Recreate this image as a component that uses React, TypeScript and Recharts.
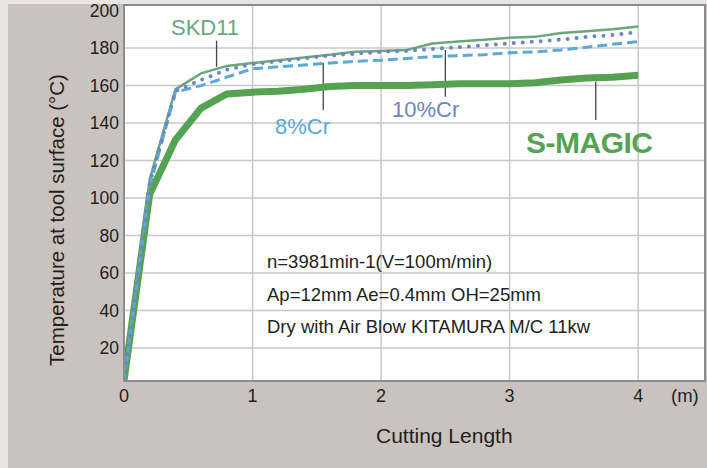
import { LineChart, Line, XAxis, YAxis, CartesianGrid, ReferenceLine, ReferenceArea } from "recharts";

const lengths = [0, 0.2, 0.4, 0.6, 0.8, 1.0, 1.2, 1.4, 1.6, 1.8, 2.0, 2.2, 2.4, 2.6, 2.8, 3.0, 3.2, 3.4, 3.6, 3.8, 4.0];
const sMagic = [2.5, 102, 131, 148, 155.5, 156.5, 157, 158, 159.5, 160, 160, 160, 160.5, 161, 161, 161, 161.5, 163, 164, 164.5, 165.5];
const skd11 = [2.5, 110, 158, 166.5, 170.5, 172, 173.5, 175, 176.5, 178, 178.5, 179, 182.5, 183.5, 184.5, 185.5, 186, 188, 189, 190, 191.5];
const cr10 = [2.5, 108, 157, 163, 168.5, 171.5, 173, 174.5, 176, 177, 178, 178.5, 179.5, 180.5, 181.5, 182.5, 183.5, 184.5, 186, 187, 188.5];
const cr8 = [2.5, 106, 156.5, 160, 164.5, 169, 170, 171, 172, 173, 173.5, 174.5, 175.5, 176, 176.5, 177.5, 178, 179, 180.5, 182, 183.5];

const xTicks = [0, 1, 2, 3, 4];
const yTicks = [20, 40, 60, 80, 100, 120, 140, 160, 180, 200];
const notes = ["n=3981min-1(V=100m/min)", "Ap=12mm Ae=0.4mm OH=25mm", "Dry with Air Blow KITAMURA M/C 11kw"];

const data = lengths.map((len, i) => ({ len, sMagic: sMagic[i], skd11: skd11[i], cr10: cr10[i], cr8: cr8[i] }));

const font = "'Liberation Sans', Arial, sans-serif";
const ink = "#231f20";

export default function App() {
  return (
    <div style={{ position: "absolute", left: 0, top: 0, width: 707, height: 468, background: "#e8e6e3", fontFamily: font }}>
      <div style={{ position: "absolute", left: 8, top: 4, width: 699, height: 464, background: "#c9c2bf" }} />
      <div style={{ position: "absolute", left: 0, top: 0 }}>
        <LineChart width={707} height={468} data={data} margin={{ top: 5, right: 2, bottom: 0, left: 0 }}>
          <CartesianGrid fill="#fff" stroke="#c8c8c8" strokeWidth={1.5} horizontalValues={[20, 40, 60, 80, 100, 120, 140, 160, 180]} verticalValues={[1, 2, 3, 4]} />
          <XAxis
            type="number"
            dataKey="len"
            domain={[0, 4.52]}
            ticks={xTicks}
            allowDataOverflow
            height={87}
            tickSize={0}
            tickMargin={8}
            axisLine={{ stroke: "#8c8c8c", strokeWidth: 2 }}
            tick={{ fill: ink, fontSize: 18, fontFamily: font }}
          />
          <YAxis
            type="number"
            domain={[2.4, 203]}
            ticks={yTicks}
            allowDataOverflow
            width={124}
            tickSize={0}
            tickMargin={5}
            axisLine={{ stroke: "#8c8c8c", strokeWidth: 2 }}
            tick={{ fill: ink, fontSize: 17.5, fontFamily: font }}
          />
          <ReferenceArea x1={0} x2={4.52} y1={2.4} y2={203} fill="none" stroke="#8c8c8c" strokeWidth={2} />
          <ReferenceLine segment={[{ x: 0.72, y: 184 }, { x: 0.72, y: 170 }]} stroke="#444" strokeWidth={1.3} />
          <ReferenceLine segment={[{ x: 1.55, y: 172 }, { x: 1.55, y: 147 }]} stroke="#444" strokeWidth={1.3} />
          <ReferenceLine segment={[{ x: 2.5, y: 179 }, { x: 2.5, y: 154 }]} stroke="#444" strokeWidth={1.3} />
          <ReferenceLine segment={[{ x: 3.67, y: 162 }, { x: 3.67, y: 141.6 }]} stroke="#444" strokeWidth={1.3} />
          <Line type="linear" dataKey="sMagic" stroke="#55a352" strokeWidth={7} dot={false} isAnimationActive={false} />
          <Line type="linear" dataKey="skd11" stroke="#6aa77c" strokeWidth={2.5} dot={false} isAnimationActive={false} />
          <Line type="linear" dataKey="cr8" stroke="#5ba9d6" strokeWidth={3} strokeDasharray="10 5" dot={false} isAnimationActive={false} />
          <Line type="linear" dataKey="cr10" stroke="#6b86c2" strokeWidth={4} strokeDasharray="0 9" strokeLinecap="round" dot={false} isAnimationActive={false} />
        </LineChart>
      </div>
      <div style={{ position: "absolute", left: 671, top: 385, fontSize: 18.5, color: ink }}>(m)</div>
      <div style={{ position: "absolute", left: 376, top: 424, fontSize: 21, color: ink, whiteSpace: "nowrap" }}>Cutting Length</div>
      <div
        style={{
          position: "absolute",
          left: 57,
          top: 220,
          transform: "translate(-50%, -50%) rotate(-90deg)",
          whiteSpace: "nowrap",
          fontSize: 20.5,
          color: ink,
        }}
      >
        Temperature at tool surface (°C)
      </div>
      <div style={{ position: "absolute", left: 171, top: 15, fontSize: 22, color: "#6aa77c" }}>SKD11</div>
      <div style={{ position: "absolute", left: 275, top: 114, fontSize: 22, color: "#5ba9d6" }}>8%Cr</div>
      <div style={{ position: "absolute", left: 392, top: 97, fontSize: 22, color: "#6b86c2" }}>10%Cr</div>
      <div style={{ position: "absolute", left: 526, top: 126, fontSize: 30, fontWeight: 700, letterSpacing: -0.5, color: "#55a352" }}>S-MAGIC</div>
      {notes.map((t, i) => (
        <div key={t} style={{ position: "absolute", left: 267, top: 251 + i * 32.5, fontSize: 18.5, color: ink, whiteSpace: "nowrap" }}>
          {t}
        </div>
      ))}
    </div>
  );
}
